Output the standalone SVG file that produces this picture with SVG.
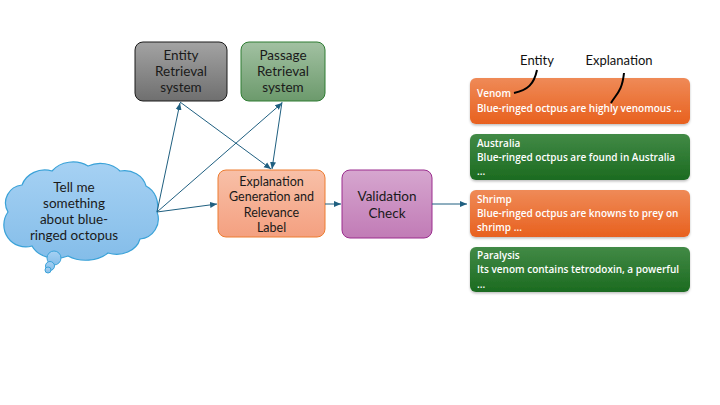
<svg xmlns="http://www.w3.org/2000/svg" width="720" height="405" viewBox="0 0 720 405">
<defs>
<linearGradient id="gGray" x1="0" y1="0" x2="0" y2="1"><stop offset="0" stop-color="#a3a3a3"/><stop offset="1" stop-color="#6f6f6f"/></linearGradient>
<linearGradient id="gGreenBox" x1="0" y1="0" x2="0" y2="1"><stop offset="0" stop-color="#a2c1a2"/><stop offset="1" stop-color="#6c9a6c"/></linearGradient>
<linearGradient id="gSalmon" x1="0" y1="0" x2="0" y2="1"><stop offset="0" stop-color="#f8c0a8"/><stop offset="1" stop-color="#f4a080"/></linearGradient>
<linearGradient id="gPurple" x1="0" y1="0" x2="0" y2="1"><stop offset="0" stop-color="#d6a6cf"/><stop offset="1" stop-color="#c17bb6"/></linearGradient>
<linearGradient id="gOrange" x1="0" y1="0" x2="0" y2="1"><stop offset="0" stop-color="#ef8a57"/><stop offset="1" stop-color="#e8611f"/></linearGradient>
<linearGradient id="gGreen" x1="0" y1="0" x2="0" y2="1"><stop offset="0" stop-color="#428a46"/><stop offset="1" stop-color="#1c6b20"/></linearGradient>
<linearGradient id="gCloud" x1="0" y1="0" x2="0" y2="1"><stop offset="0" stop-color="#a6d1f3"/><stop offset="1" stop-color="#84bde9"/></linearGradient>
<marker id="arr" markerWidth="8" markerHeight="8" refX="7" refY="4" orient="auto" markerUnits="userSpaceOnUse">
<path d="M0,1 L7,4 L0,7 Z" fill="#1f5f80"/>
</marker>
<filter id="sh" x="-5%" y="-10%" width="110%" height="130%"><feDropShadow dx="0" dy="1.5" stdDeviation="1" flood-color="#000" flood-opacity="0.25"/></filter>
</defs>
<style>
.lbl{font-family:Lato,"Liberation Sans",sans-serif;font-size:13.5px;fill:#1a1a1a;text-anchor:middle}
.sm{font-size:12.5px}
.card{font-family:"Open Sans","Liberation Sans",sans-serif;font-size:10px;fill:#ffffff;font-weight:600}
.ann{font-family:Lato,"Liberation Sans",sans-serif;font-size:13px;fill:#111;text-anchor:middle}
.conn{stroke:#1f5f80;stroke-width:1;fill:none}
</style>
<g id="query">
<path d="M8,212 A18,18 0 0 1 22,185 A24,22 0 0 1 52,171 A26,22 0 0 1 88,166 A26,22 0 0 1 120,171 A22,20 0 0 1 146,186 A20,22 0 0 1 157,212 A20,20 0 0 1 140,239 A24,20 0 0 1 108,253 A30,22 0 0 1 68,256 A26,20 0 0 1 32,246 A22,22 0 0 1 8,212 Z" fill="url(#gCloud)" stroke="#3aa2d8" stroke-width="1.2"/>
<circle cx="54" cy="258" r="7" fill="url(#gCloud)" stroke="#3aa2d8" stroke-width="1"/>
<circle cx="50" cy="266" r="4.5" fill="url(#gCloud)" stroke="#3aa2d8" stroke-width="1"/>
<circle cx="48" cy="270" r="3" fill="url(#gCloud)" stroke="#3aa2d8" stroke-width="1"/>
<text class="lbl" x="74" y="192">Tell me</text>
<text class="lbl" x="74" y="208">something</text>
<text class="lbl" x="74" y="224">about blue-</text>
<text class="lbl" x="74" y="240">ringed octopus</text>
</g>
<g id="entity-retrieval">
<rect x="135" y="42" width="92" height="59" rx="8" fill="url(#gGray)" stroke="#1a1a1a" stroke-width="1"/>
<text class="lbl" x="181" y="60">Entity</text>
<text class="lbl" x="181" y="76">Retrieval</text>
<text class="lbl" x="181" y="92">system</text>
</g>
<g id="passage-retrieval">
<rect x="241" y="42" width="84" height="59" rx="8" fill="url(#gGreenBox)" stroke="#2e7d32" stroke-width="1"/>
<text class="lbl" x="283" y="60">Passage</text>
<text class="lbl" x="283" y="76">Retrieval</text>
<text class="lbl" x="283" y="92">system</text>
</g>
<g id="explanation">
<rect x="218" y="170" width="107" height="67" rx="8" fill="url(#gSalmon)" stroke="#ed7d31" stroke-width="1"/>
<text class="lbl sm" x="271.5" y="186">Explanation</text>
<text class="lbl sm" x="271.5" y="201.3">Generation and</text>
<text class="lbl sm" x="271.5" y="216.6">Relevance</text>
<text class="lbl sm" x="271.5" y="231.9">Label</text>
</g>
<g id="validation">
<rect x="342" y="170" width="90" height="68" rx="8" fill="url(#gPurple)" stroke="#9b2d8e" stroke-width="1"/>
<text class="lbl" x="387" y="201">Validation</text>
<text class="lbl" x="387" y="218">Check</text>
</g>
<g id="card-venom">
<rect x="470" y="78" width="220" height="46" rx="6" fill="url(#gOrange)" filter="url(#sh)"/>
<text class="card" x="477" y="97">Venom</text>
<text class="card" x="477" y="112">Blue-ringed octpus are highly venomous ...</text>
</g>
<g id="card-australia">
<rect x="470" y="134" width="220" height="46" rx="6" fill="url(#gGreen)" filter="url(#sh)"/>
<text class="card" x="477" y="147">Australia</text>
<text class="card" x="477" y="161">Blue-ringed octpus are found in Australia</text>
<text class="card" x="477" y="175">...</text>
</g>
<g id="card-shrimp">
<rect x="470" y="190" width="220" height="47" rx="6" fill="url(#gOrange)" filter="url(#sh)"/>
<text class="card" x="477" y="203">Shrimp</text>
<text class="card" x="477" y="217">Blue-ringed octpus are knowns to prey on</text>
<text class="card" x="477" y="231">shrimp ...</text>
</g>
<g id="card-paralysis">
<rect x="470" y="247" width="220" height="45" rx="6" fill="url(#gGreen)" filter="url(#sh)"/>
<text class="card" x="477" y="259">Paralysis</text>
<text class="card" x="477" y="273">Its venom contains tetrodoxin, a powerful</text>
<text class="card" x="477" y="288">...</text>
</g>
<g id="annotations">
<text class="ann" x="537" y="65">Entity</text>
<text class="ann" x="619" y="65">Explanation</text>
<path d="M537,70 C534,84 528,90 514,93" stroke="#000" stroke-width="2" fill="none"/>
<path d="M624,73 C622,92 616,94 611,103" stroke="#000" stroke-width="2" fill="none"/>
</g>
<g id="connectors">
<line class="conn" x1="157" y1="212" x2="180" y2="103" marker-end="url(#arr)"/>
<line class="conn" x1="157" y1="212" x2="282" y2="103" marker-end="url(#arr)"/>
<line class="conn" x1="157" y1="212" x2="217" y2="204" marker-end="url(#arr)"/>
<line class="conn" x1="180" y1="102" x2="271" y2="169" marker-end="url(#arr)"/>
<line class="conn" x1="282" y1="102" x2="272" y2="169" marker-end="url(#arr)"/>
<line class="conn" x1="325" y1="204" x2="341" y2="204" marker-end="url(#arr)"/>
<line class="conn" x1="432" y1="204" x2="467" y2="204" marker-end="url(#arr)"/>
</g>
</svg>
